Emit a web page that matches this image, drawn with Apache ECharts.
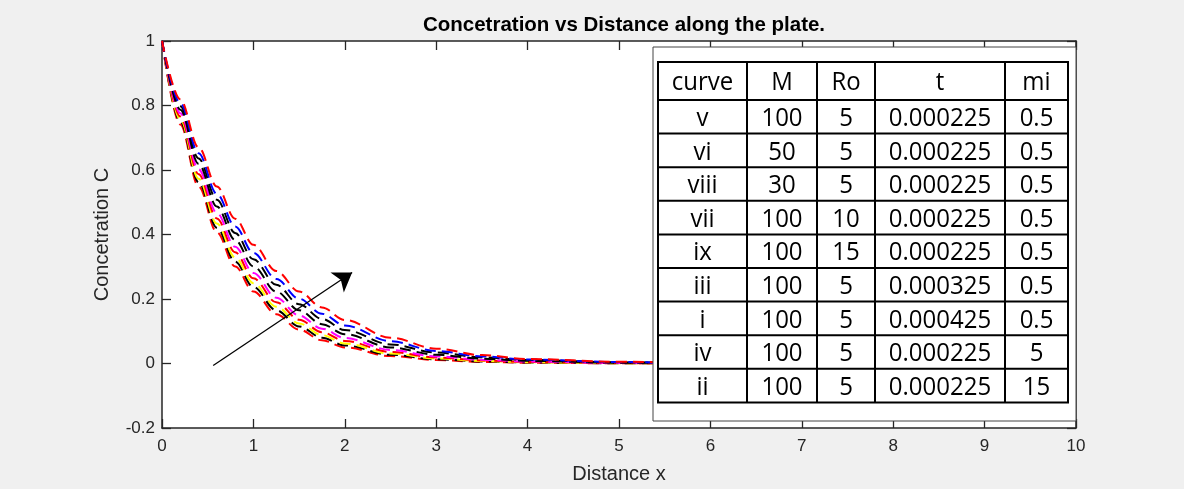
<!DOCTYPE html>
<html>
<head>
<meta charset="utf-8">
<script src="https://cdn.jsdelivr.net/npm/echarts@6/dist/echarts.min.js"></script>
<style>
html,body{margin:0;padding:0;background:#f0f0f0;}
#chart{width:1184px;height:489px;}
</style>
</head>
<body>
<div id="chart"></div>
<script>
// ---- data ----
var xValues = [0, 0.2, 0.4, 0.6, 0.8, 1.0, 1.25, 1.5, 1.75, 2.0, 2.5, 3.0, 3.5, 4.0, 5, 6, 7, 8, 9, 10];
var curve1 = [1, 0.741, 0.549, 0.407, 0.301, 0.223, 0.153, 0.105, 0.072, 0.050, 0.023, 0.011, 0.005, 0.0025, 0.0006, 0.0001, 0, 0, 0, 0];
var curve2 = [1, 0.750, 0.562, 0.421, 0.316, 0.237, 0.165, 0.115, 0.080, 0.056, 0.027, 0.013, 0.0065, 0.0032, 0.0007, 0.0002, 0, 0, 0, 0];
var curve3 = [1, 0.757, 0.573, 0.434, 0.329, 0.249, 0.176, 0.124, 0.088, 0.062, 0.031, 0.0155, 0.0077, 0.0038, 0.0010, 0.0002, 0, 0, 0, 0];
var curve4 = [1, 0.766, 0.587, 0.450, 0.345, 0.264, 0.190, 0.136, 0.097, 0.070, 0.036, 0.0185, 0.0095, 0.0049, 0.0013, 0.0003, 0.0001, 0, 0, 0];
var curve5 = [1, 0.776, 0.602, 0.467, 0.362, 0.281, 0.204, 0.149, 0.108, 0.079, 0.042, 0.022, 0.0117, 0.0062, 0.0017, 0.0005, 0.0001, 0, 0, 0];
var curve6 = [1, 0.787, 0.619, 0.487, 0.383, 0.301, 0.223, 0.165, 0.122, 0.091, 0.050, 0.027, 0.015, 0.0082, 0.0025, 0.0007, 0.0002, 0.0001, 0, 0];
var curve7 = [1, 0.798, 0.636, 0.508, 0.405, 0.323, 0.244, 0.184, 0.138, 0.104, 0.059, 0.034, 0.019, 0.0109, 0.0035, 0.0011, 0.0004, 0.0001, 0, 0];
var curve8 = [1, 0.807, 0.652, 0.526, 0.425, 0.343, 0.262, 0.201, 0.154, 0.118, 0.069, 0.039, 0.022, 0.0125, 0.0045, 0.0015, 0.0005, 0.0002, 0.0001, 0];
var curve9 = [1, 0.819, 0.670, 0.549, 0.449, 0.368, 0.287, 0.223, 0.174, 0.135, 0.080, 0.046, 0.026, 0.014, 0.0055, 0.0020, 0.0007, 0.0002, 0.0001, 0];
var curves = [curve1, curve2, curve3, curve4, curve5, curve6, curve7, curve8, curve9];
var curveColors = ['#ff0000', '#000000', '#ffff00', '#ff0000', '#ff00ff', '#000000', '#000000', '#0000ff', '#ff0000'];

var xTicks = [0, 1, 2, 3, 4, 5, 6, 7, 8, 9, 10];
var yTicks = [-0.2, 0, 0.2, 0.4, 0.6, 0.8, 1];
var arrowStart = [0.56, -0.006];
var arrowEnd = [2.08, 0.282];

var tableHeader = ['curve', 'M', 'Ro', 't', 'mi'];
var tableRows = [
  ['v', '100', '5', '0.000225', '0.5'],
  ['vi', '50', '5', '0.000225', '0.5'],
  ['viii', '30', '5', '0.000225', '0.5'],
  ['vii', '100', '10', '0.000225', '0.5'],
  ['ix', '100', '15', '0.000225', '0.5'],
  ['iii', '100', '5', '0.000325', '0.5'],
  ['i', '100', '5', '0.000425', '0.5'],
  ['iv', '100', '5', '0.000225', '5'],
  ['ii', '100', '5', '0.000225', '15']
];

var titleText = 'Concetration vs Distance along the plate.';
var xName = 'Distance x';
var yName = 'Concetration C';

// ---- layout ----
var G = {left: 162, right: 1076, top: 41, bottom: 428};
var axisColor = '#262626';
var baseFont = '"Liberation Sans", Arial, sans-serif';

var series = curves.map(function (c, i) {
  return {
    type: 'line',
    data: xValues.map(function (x, j) { return [x, c[j]]; }),
    showSymbol: false,
    smooth: 0.35,
    smoothMonotone: 'x',
    lineStyle: {color: curveColors[i], width: 2, type: [11, 6]},
    itemStyle: {color: curveColors[i]},
    z: 2,
    silent: true,
    animation: false
  };
});
series.push({
  type: 'lines',
  coordinateSystem: 'cartesian2d',
  data: [{coords: [arrowStart, arrowEnd]}],
  symbol: ['none', 'arrow'],
  symbolSize: [0, 18],
  lineStyle: {color: '#000', width: 1.3, opacity: 1},
  z: 5,
  silent: true,
  animation: false
});

// table graphics
var graphics = [];
var boxL = 653, boxR = 1076, boxT = 47, boxB = 421;
graphics.push({type: 'rect', shape: {x: boxL, y: boxT, width: boxR - boxL, height: boxB - boxT},
  style: {fill: '#fff', stroke: '#444', lineWidth: 1}, z: 100});
var colX = [658, 747, 817, 875, 1005, 1068];
var rowY = [62, 100];
for (var r = 1; r <= tableRows.length; r++) rowY.push(100 + r * 33.6);
var tblZ = 101;
rowY.forEach(function (y) {
  graphics.push({type: 'line', shape: {x1: colX[0] - 1, y1: y, x2: colX[colX.length - 1] + 1, y2: y},
    style: {stroke: '#000', lineWidth: 2}, z: tblZ});
});
colX.forEach(function (x) {
  graphics.push({type: 'line', shape: {x1: x, y1: rowY[0], x2: x, y2: rowY[rowY.length - 1]},
    style: {stroke: '#000', lineWidth: 2}, z: tblZ});
});
var allRows = [tableHeader].concat(tableRows);
allRows.forEach(function (row, ri) {
  var cy = (rowY[ri] + rowY[ri + 1]) / 2;
  row.forEach(function (txt, ci) {
    var cx = (colX[ci] + colX[ci + 1]) / 2;
    graphics.push({type: 'text', x: cx, y: cy + 2, scaleY: 1.06,
      style: {text: txt, fill: '#000', font: '24px "Open Sans", sans-serif', textAlign: 'center', textVerticalAlign: 'middle'},
      z: tblZ + 1});
  });
});

var chart = echarts.init(document.getElementById('chart'), null, {renderer: 'canvas'});
chart.setOption({
  backgroundColor: '#f0f0f0',
  animation: false,
  title: {text: titleText, left: (G.left + G.right) / 2, top: 10, textAlign: 'center',
    textStyle: {fontFamily: baseFont, fontWeight: 'bold', fontSize: 20.5, color: '#000'}},
  grid: {left: G.left, top: G.top, width: G.right - G.left, height: G.bottom - G.top,
    show: true, backgroundColor: '#fff', borderWidth: 0},
  xAxis: [{
    type: 'value', min: xTicks[0], max: xTicks[xTicks.length - 1], interval: 1, position: 'bottom',
    name: xName, nameLocation: 'middle', nameGap: 36,
    nameTextStyle: {fontFamily: baseFont, fontSize: 20, color: axisColor},
    axisLine: {show: true, onZero: false, lineStyle: {color: axisColor, width: 1.5}},
    axisTick: {show: true, inside: true, length: 9, lineStyle: {color: axisColor, width: 1.3}},
    axisLabel: {fontFamily: baseFont, fontSize: 17, color: axisColor, margin: 10},
    splitLine: {show: false}
  }, {
    type: 'value', min: xTicks[0], max: xTicks[xTicks.length - 1], interval: 1, position: 'top',
    axisLine: {show: true, onZero: false, lineStyle: {color: axisColor, width: 1.5}},
    axisTick: {show: true, inside: true, length: 9, lineStyle: {color: axisColor, width: 1.3}},
    axisLabel: {show: false}, splitLine: {show: false}
  }],
  yAxis: [{
    type: 'value', min: yTicks[0], max: yTicks[yTicks.length - 1], interval: 0.2, position: 'left',
    name: yName, nameLocation: 'middle', nameGap: 50, nameRotate: 90,
    nameTextStyle: {fontFamily: baseFont, fontSize: 20, color: axisColor},
    axisLine: {show: true, onZero: false, lineStyle: {color: axisColor, width: 1.5}},
    axisTick: {show: true, inside: true, length: 9, lineStyle: {color: axisColor, width: 1.3}},
    axisLabel: {fontFamily: baseFont, fontSize: 17, color: axisColor, margin: 7,
      formatter: function (v) { return String(Math.round(v * 10) / 10); }},
    splitLine: {show: false}
  }, {
    type: 'value', min: yTicks[0], max: yTicks[yTicks.length - 1], interval: 0.2, position: 'right',
    axisLine: {show: true, onZero: false, lineStyle: {color: axisColor, width: 1.5}},
    axisTick: {show: true, inside: true, length: 9, lineStyle: {color: axisColor, width: 1.3}},
    axisLabel: {show: false}, splitLine: {show: false}
  }],
  series: series,
  graphic: graphics
});
</script>
</body>
</html>
